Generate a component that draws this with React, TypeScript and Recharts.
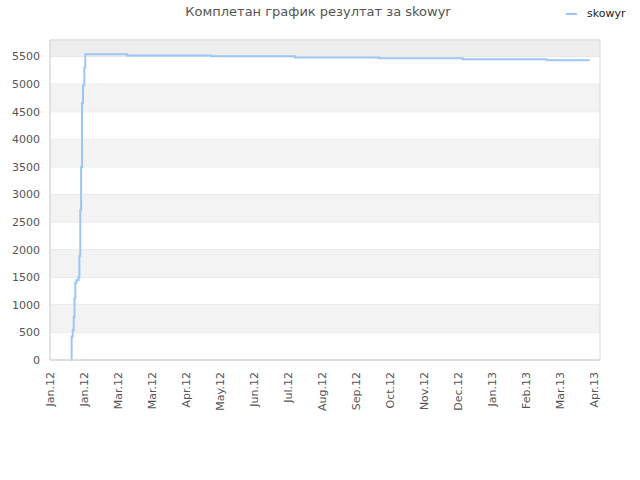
import React from 'react';
import {
  LineChart,
  Line,
  XAxis,
  YAxis,
  CartesianGrid,
  ReferenceArea
} from 'recharts';

document.body.style.margin = '0';

// x is days since Jan 1 2012, ticks every 30 days
const tickDays = [0, 30, 60, 90, 120, 150, 180, 210, 240, 270, 300, 330, 360, 390, 420, 450, 480];
const tickLabels = [
  'Jan.12', 'Jan.12', 'Mar.12', 'Mar.12', 'Apr.12', 'May.12', 'Jun.12', 'Jul.12',
  'Aug.12', 'Sep.12', 'Oct.12', 'Nov.12', 'Dec.12', 'Jan.13', 'Feb.13', 'Mar.13', 'Apr.13'
];
const yTicks = [0, 500, 1000, 1500, 2000, 2500, 3000, 3500, 4000, 4500, 5000, 5500];
const yMax = 5800;
const xMax = 485;

// each point: the day the score changes, and the new score
const days = [18, 19.1, 20, 20.9, 21.6, 22.3, 23.4, 25.1, 25.9, 26.7, 27.4, 28.2, 29.1, 30.3, 31.1, 68, 142, 216, 290, 364, 438, 476];
const scores = [0, 420, 545, 780, 1120, 1400, 1450, 1500, 1890, 2720, 3500, 4660, 4980, 5300, 5540, 5520, 5505, 5485, 5470, 5450, 5432, 5432];

const data = days.map((d, i) => ({ day: d, skowyr: scores[i] }));

const LINE_COLOR = '#9cc7f4';
const GRID_COLOR = '#e2e2e2';
const BORDER_COLOR = '#d9d9d9';
const FONT = '"DejaVu Sans", sans-serif';

const XTick = ({ x, y, payload }: any) => (
  <g transform={`translate(${x},${y})`}>
    <text
      transform="rotate(-90)"
      textAnchor="end"
      dy="0.35em"
      fontSize={11}
      fill="#555"
      fontFamily={FONT}
    >
      {tickLabels[tickDays.indexOf(payload.value)]}
    </text>
  </g>
);

export default function App() {
  // grey stripes between every other pair of ticks, plus the strip above the top tick
  const stripes = yTicks.filter((_, i) => i % 2 === 1 && i + 1 < yTicks.length).map(t => [t, t + 500]);

  return (
    <div style={{ position: 'relative', width: 640, height: 480, background: '#fff' }}>
      <div
        style={{
          position: 'absolute',
          top: 4,
          left: 0,
          width: 636,
          textAlign: 'center',
          fontFamily: FONT,
          fontSize: 13,
          color: '#555'
        }}
      >
        Комплетан график резултат за skowyr
      </div>
      <div
        style={{
          position: 'absolute',
          top: 7,
          left: 566,
          display: 'flex',
          alignItems: 'center',
          fontFamily: FONT,
          fontSize: 11,
          color: '#222'
        }}
      >
        <span style={{ display: 'inline-block', width: 11, height: 2, background: LINE_COLOR, marginRight: 10 }} />
        skowyr
      </div>
      <LineChart width={640} height={480} data={data} margin={{ top: 40, right: 40, bottom: 0, left: 0 }}>
        <ReferenceArea y1={yTicks[yTicks.length - 1]} y2={yMax} x1={0} x2={xMax} fill="#eeeeee" fillOpacity={1} stroke="none" />
        {stripes.map(([a, b]) => (
          <ReferenceArea key={a} y1={a} y2={b} x1={0} x2={xMax} fill="#f3f3f3" fillOpacity={1} stroke="none" />
        ))}
        <CartesianGrid vertical={false} stroke={GRID_COLOR} strokeDasharray="" />
        <ReferenceArea y1={0} y2={yMax} x1={0} x2={xMax} fill="none" stroke={BORDER_COLOR} />
        <XAxis
          dataKey="day"
          type="number"
          domain={[0, xMax]}
          ticks={tickDays}
          interval={0}
          height={120}
          tickLine={false}
          tickSize={0}
          tickMargin={12}
          axisLine={{ stroke: BORDER_COLOR }}
          tick={<XTick />}
        />
        <YAxis
          type="number"
          domain={[0, yMax]}
          ticks={yTicks}
          width={50}
          tickLine={false}
          tickSize={0}
          tickMargin={10}
          axisLine={{ stroke: BORDER_COLOR }}
          tick={{ fontSize: 11, fill: '#555', fontFamily: FONT }}
        />
        <Line
          type="stepAfter"
          dataKey="skowyr"
          stroke={LINE_COLOR}
          strokeWidth={2}
          dot={false}
          isAnimationActive={false}
        />
      </LineChart>
    </div>
  );
}
